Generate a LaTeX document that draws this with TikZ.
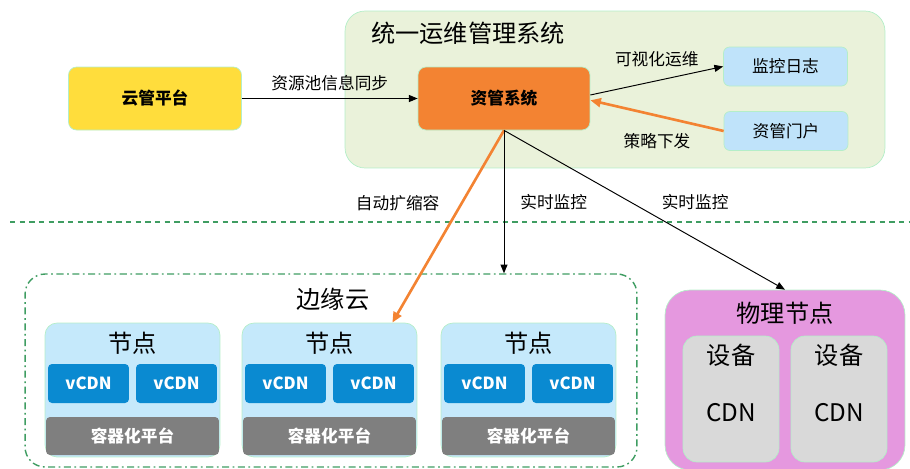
\documentclass[tikz,border=0pt]{standalone}
\usepackage{fontspec}
\setmainfont{Noto Sans CJK SC}
\usetikzlibrary{arrows.meta}

\definecolor{mint}{HTML}{B4EEC8}
\definecolor{sysgreen}{HTML}{EAF2DA}
\definecolor{cloudyellow}{HTML}{FFDD3C}
\definecolor{zgorange}{HTML}{F38332}
\definecolor{paleblue}{HTML}{BFE3FA}
\definecolor{nodeblue}{HTML}{C5E9FB}
\definecolor{vcdnblue}{HTML}{0A8AD1}
\definecolor{platgray}{HTML}{7F7F7F}
\definecolor{physpink}{HTML}{E598DF}
\definecolor{devgray}{HTML}{D9D9D9}
\definecolor{linegreen}{HTML}{3F9D62}

\begin{document}
\begin{tikzpicture}[x=0.02cm, y=-0.02cm,
    box/.style={draw=mint, line width=0.4pt, inner sep=0pt, align=center},
    small/.style={font=\fontsize{9.5}{11}\selectfont},
    bold/.style={font=\bfseries\fontsize{9.5}{11}\selectfont},
    big/.style={font=\fontsize{13.8}{16}\selectfont},
    link/.style={-{Triangle[length=5pt,width=4pt]}, line width=0.55pt},
    push/.style={-{Triangle[length=6pt,width=5pt]}, line width=1.5pt, draw=zgorange, color=zgorange}]
    \useasboundingbox (0,0) rectangle (910,468);

    % Unified O&M system
    \node[box, fill=sysgreen, rounded corners=0.4cm, minimum width=10.8cm, minimum height=3.14cm] (sys) at (615,89.5) {};
    \node[big, anchor=west] (systitle) at (365,33) {统一运维管理系统};
    \node[box, fill=zgorange, rounded corners=0.16cm, minimum width=3.44cm, minimum height=1.26cm, bold] (zg) at (504,98.5) {资管系统};
    \node[box, fill=paleblue, rounded corners=0.12cm, minimum width=2.48cm, minimum height=0.78cm, small] (log) at (785.5,66.5) {监控日志};
    \node[box, fill=paleblue, rounded corners=0.12cm, minimum width=2.48cm, minimum height=0.78cm, small] (portal) at (786,131) {资管门户};

    % Cloud management
    \node[box, fill=cloudyellow, rounded corners=0.16cm, minimum width=3.46cm, minimum height=1.26cm, bold] (cloud) at (155,98.5) {云管平台};

    \draw[link] (cloud.east) -- (zg.west) node[midway, above=1pt, small] {资源池信息同步};
    \draw[link] ([yshift=2pt]zg.east) -- (log.west) node[midway, above=4pt, small] {可视化运维};
    \draw[push] (portal.west) -- ([yshift=-1pt]zg.east) node[midway, below=6pt, small, text=black] {策略下发};

    % Separator
    \draw[linegreen, line width=0.8pt, dash pattern=on 3pt off 2.5pt] (10,222) -- (910,222);

    % Edge cloud
    \node[draw=linegreen, line width=0.8pt, dash pattern=on 4pt off 2pt on 1pt off 2pt, rounded corners=0.4cm, minimum width=12.24cm, minimum height=3.86cm] (edge) at (331,370.5) {};
    \node[big] (edgetitle) at (333,299) {边缘云};
    \foreach \i/\cx in {1/132.5, 2/329.5, 3/528.5} {
        \node[box, fill=nodeblue, rounded corners=0.24cm, minimum width=3.5cm, minimum height=2.68cm] (n\i) at (\cx,390) {};
        \node[big] (t\i) at (\cx,343) {节点};
        \node[box, draw=none, fill=vcdnblue, rounded corners=0.08cm, minimum width=1.62cm, minimum height=0.78cm, bold, text=white] (va\i) at ({\cx-44},383.5) {vCDN};
        \node[box, draw=none, fill=vcdnblue, rounded corners=0.08cm, minimum width=1.62cm, minimum height=0.78cm, bold, text=white] (vb\i) at ({\cx+44},383.5) {vCDN};
        \node[box, draw=none, fill=platgray, rounded corners=0.08cm, minimum width=3.46cm, minimum height=0.76cm, bold, text=white] (p\i) at (\cx,436) {容器化平台};
    }

    % Physical node
    \node[box, fill=physpink, rounded corners=0.5cm, minimum width=4.8cm, minimum height=3.6cm] (phys) at (785,380) {};
    \node[big] (phystitle) at (785,313) {物理节点};
    \foreach \i/\cx in {1/731, 2/839} {
        \node[box, fill=devgray, rounded corners=0.28cm, minimum width=1.92cm, minimum height=2.52cm] (d\i) at (\cx,399) {};
        \node[big] (dn\i) at (\cx,355) {设备};
        \node[big] (dc\i) at (\cx,413) {CDN};
    }

    % Control links
    \draw[push] (zg.south) -- ([xshift=-0.5cm]n2.north east) node[pos=0.38, left=0.3cm, small, text=black] {自动扩缩容};
    \draw[link] (zg.south) -- (zg.south |- edge.north) node[midway, right=0.2cm, small] {实时监控};
    \draw[link] (zg.south) -- (phys.north) node[pos=0.45, right=0.5cm, small] {实时监控};
\end{tikzpicture}
\end{document}
